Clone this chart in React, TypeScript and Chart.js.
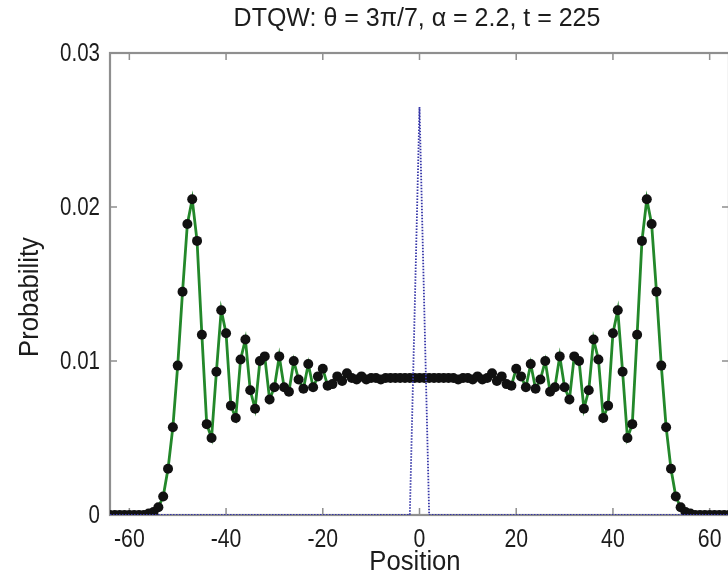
import React, { useEffect, useRef } from "react";
import { Chart, registerables } from "chart.js";

Chart.register(...registerables);

const titleText = "DTQW: \u03B8 = 3\u03C0/7, \u03B1 = 2.2, t = 225";
const xLabel = "Position";
const yLabel = "Probability";

const xTicks = [-60, -40, -20, 0, 20, 40, 60];
const xTickLabels = ["-60", "-40", "-20", "0", "20", "40", "60"];
const yTicks = [0, 0.01, 0.02, 0.03];
const yTickLabels = ["0", "0.01", "0.02", "0.03"];

const positions = [
  -64, -63, -62, -61, -60, -59, -58, -57, -56, -55, -54, -53, -52, -51, -50, -49,
  -48, -47, -46, -45, -44, -43, -42, -41, -40, -39, -38, -37, -36, -35, -34, -33,
  -32, -31, -30, -29, -28, -27, -26, -25, -24, -23, -22, -21, -20, -19, -18, -17,
  -16, -15, -14, -13, -12, -11, -10, -9, -8, -7, -6, -5, -4, -3, -2, -1,
  0,
  1, 2, 3, 4, 5, 6, 7, 8, 9, 10, 11, 12, 13, 14, 15, 16,
  17, 18, 19, 20, 21, 22, 23, 24, 25, 26, 27, 28, 29, 30, 31, 32,
  33, 34, 35, 36, 37, 38, 39, 40, 41, 42, 43, 44, 45, 46, 47, 48,
  49, 50, 51, 52, 53, 54, 55, 56, 57, 58, 59, 60, 61, 62, 63, 64,
];

const probability = [
  0, 0, 0, 0, 0, 0, 0, 0, 0.0001, 0.0002, 0.0005, 0.0012, 0.003, 0.0057, 0.0097, 0.0145,
  0.0189, 0.0205, 0.0178, 0.0117, 0.0059, 0.005, 0.0093, 0.0133, 0.0118, 0.0071, 0.0063, 0.0101, 0.0114, 0.0081, 0.0069, 0.01,
  0.0103, 0.0075, 0.0083, 0.0103, 0.0083, 0.008, 0.01, 0.0088, 0.0082, 0.0098, 0.0083, 0.009, 0.0095, 0.0084, 0.0085, 0.009,
  0.0087, 0.0092, 0.0089, 0.0088, 0.009, 0.0088, 0.0089, 0.0089, 0.0088, 0.0089, 0.0089, 0.0089, 0.0089, 0.0089, 0.0089, 0.0089,
  0.0089,
  0.0089, 0.0089, 0.0089, 0.0089, 0.0089, 0.0089, 0.0089, 0.0088, 0.0089, 0.0089, 0.0088, 0.009, 0.0088, 0.0089, 0.0092, 0.0087,
  0.009, 0.0085, 0.0084, 0.0095, 0.009, 0.0083, 0.0098, 0.0082, 0.0088, 0.01, 0.008, 0.0083, 0.0103, 0.0083, 0.0075, 0.0103,
  0.01, 0.0069, 0.0081, 0.0114, 0.0101, 0.0063, 0.0071, 0.0118, 0.0133, 0.0093, 0.005, 0.0059, 0.0117, 0.0178, 0.0205, 0.0189,
  0.0145, 0.0097, 0.0057, 0.003, 0.0012, 0.0005, 0.0002, 0.0001, 0, 0, 0, 0, 0, 0, 0, 0,
];

const initialPositions = [
  -64, -62, -60, -58, -56, -54, -52, -50, -48, -46, -44, -42, -40, -38, -36, -34,
  -32, -30, -28, -26, -24, -22, -20, -18, -16, -14, -12, -10, -8, -6, -4, -2,
  0,
  2, 4, 6, 8, 10, 12, 14, 16, 18, 20, 22, 24, 26, 28, 30, 32,
  34, 36, 38, 40, 42, 44, 46, 48, 50, 52, 54, 56, 58, 60, 62, 64,
];

const initialProbability = [
  0, 0, 0, 0, 0, 0, 0, 0, 0, 0, 0, 0, 0, 0, 0, 0,
  0, 0, 0, 0, 0, 0, 0, 0, 0, 0, 0, 0, 0, 0, 0, 0,
  0.0265,
  0, 0, 0, 0, 0, 0, 0, 0, 0, 0, 0, 0, 0, 0, 0, 0,
  0, 0, 0, 0, 0, 0, 0, 0, 0, 0, 0, 0, 0, 0, 0, 0,
];

const FONT = "'Liberation Sans', Arial, Helvetica, sans-serif";
const AXIS_COLOR = "#8f8f8f";
const TEXT_COLOR = "#1c1c1c";

function drawText(
  ctx: CanvasRenderingContext2D,
  text: string,
  x: number,
  y: number,
  size: number,
  hscale: number,
  align: CanvasTextAlign,
  rotate = 0
) {
  ctx.save();
  ctx.translate(x, y);
  if (rotate) ctx.rotate(rotate);
  ctx.scale(hscale, 1);
  ctx.font = `${size}px ${FONT}`;
  ctx.textAlign = align;
  ctx.textBaseline = "middle";
  ctx.fillStyle = TEXT_COLOR;
  ctx.fillText(text, 0, 0);
  ctx.restore();
}

const framePlugin = {
  id: "matlabFrame",
  beforeDatasetsDraw(chart: any) {
    const { ctx, chartArea } = chart;
    const { left, right, top, bottom } = chartArea;
    const xs = chart.scales.x;
    const ys = chart.scales.y;
    ctx.save();
    ctx.strokeStyle = AXIS_COLOR;
    ctx.lineWidth = 2.2;
    ctx.strokeRect(left, top, right - left, bottom - top);
    ctx.lineWidth = 1.5;
    ctx.beginPath();
    const tl = 7;
    xTicks.forEach((v) => {
      const px = xs.getPixelForValue(v);
      ctx.moveTo(px, bottom);
      ctx.lineTo(px, bottom - tl);
      ctx.moveTo(px, top);
      ctx.lineTo(px, top + tl);
    });
    yTicks.forEach((v) => {
      const py = ys.getPixelForValue(v);
      ctx.moveTo(left, py);
      ctx.lineTo(left + tl, py);
      ctx.moveTo(right, py);
      ctx.lineTo(right - tl, py);
    });
    ctx.stroke();
    ctx.restore();
  },
  afterDraw(chart: any) {
    const { ctx, chartArea } = chart;
    const xs = chart.scales.x;
    const ys = chart.scales.y;
    xTicks.forEach((v, i) => {
      drawText(ctx, xTickLabels[i], xs.getPixelForValue(v), chartArea.bottom + 25, 25, 0.85, "center");
    });
    yTicks.forEach((v, i) => {
      drawText(ctx, yTickLabels[i], chartArea.left - 10, ys.getPixelForValue(v) + 1, 25, 0.82, "right");
    });
    drawText(ctx, titleText, 417, 19, 25, 1.0, "center");
    drawText(ctx, xLabel, 415, 563, 27, 0.95, "center");
    drawText(ctx, yLabel, 31, 297, 27, 0.95, "center", -Math.PI / 2);
  },
};

export default function App() {
  const canvasRef = useRef<HTMLCanvasElement | null>(null);

  useEffect(() => {
    const canvas = canvasRef.current;
    if (!canvas) return;
    const chart = new Chart(canvas, {
      type: "line",
      data: {
        datasets: [
          {
            label: "initial",
            data: initialPositions.map((x, i) => ({ x, y: initialProbability[i] })),
            borderColor: "#3535a8",
            borderWidth: 1.8,
            borderDash: [1.5, 1.5],
            pointRadius: 0,
            fill: false,
            tension: 0,
          },
          {
            label: "walk",
            data: positions.map((x, i) => ({ x, y: probability[i] })),
            borderColor: "#23882a",
            borderWidth: 2.8,
            pointRadius: 5,
            pointBackgroundColor: "#111111",
            pointBorderColor: "#111111",
            pointBorderWidth: 0,
            fill: false,
            tension: 0,
          },
        ],
      },
      options: {
        animation: false,
        responsive: false,
        maintainAspectRatio: false,
        layout: { padding: { top: 53, right: 11, left: 0, bottom: 0 } },
        plugins: { legend: { display: false }, tooltip: { enabled: false }, title: { display: false } },
        scales: {
          x: {
            type: "linear",
            min: -64,
            max: 64,
            afterBuildTicks: (s: any) => {
              s.ticks = xTicks.map((v) => ({ value: v }));
            },
            afterFit: (s: any) => {
              s.height = 65;
            },
            grid: { display: false, drawTicks: false },
            border: { display: false },
            ticks: { display: false },
          },
          y: {
            type: "linear",
            min: 0,
            max: 0.03,
            afterBuildTicks: (s: any) => {
              s.ticks = yTicks.map((v) => ({ value: v }));
            },
            afterFit: (s: any) => {
              s.width = 110;
            },
            grid: { display: false, drawTicks: false },
            border: { display: false },
            ticks: { display: false },
          },
        },
      },
      plugins: [framePlugin],
    });
    return () => chart.destroy();
  }, []);

  return (
    <div
      style={{
        position: "fixed",
        left: 0,
        top: 0,
        width: 728,
        height: 580,
        overflow: "hidden",
        background: "#ffffff",
      }}
    >
      <canvas ref={canvasRef} width={740} height={580} style={{ width: 740, height: 580, display: "block" }} />
    </div>
  );
}
